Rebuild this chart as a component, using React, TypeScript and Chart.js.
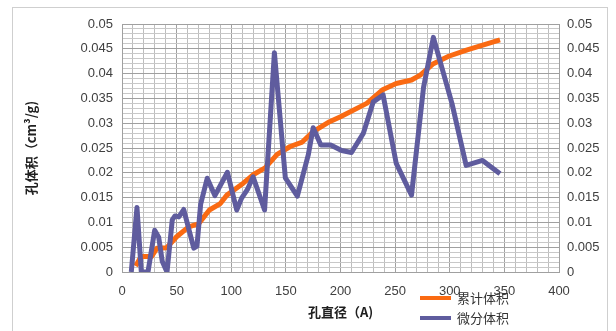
import React, { useEffect, useRef } from "react";
import { Chart, registerables } from "chart.js";

Chart.register(...registerables);

// 微分体积 (differential pore volume)
const diffDiameters = [8.5, 13.7, 17.7, 23.8, 29.9, 33.6, 36.9, 41.2, 46, 48.5, 52, 56.5, 65.7, 68.6, 72, 78, 85, 96.5, 105, 109.5, 114.7, 120, 130.5, 139.5, 149.5, 160.5, 170.5, 175, 182, 191, 201, 210, 221, 230, 239, 251, 265, 276, 285, 302, 315, 330, 346];
const diffVolumes = [0, 0.013, 0, 0, 0.0084, 0.007, 0.0021, 0, 0.0105, 0.0113, 0.0111, 0.0126, 0.0048, 0.0052, 0.0137, 0.0189, 0.0154, 0.0201, 0.0125, 0.0149, 0.0166, 0.0192, 0.0125, 0.0442, 0.019, 0.0153, 0.0236, 0.0291, 0.0256, 0.0256, 0.0245, 0.0241, 0.028, 0.0343, 0.0357, 0.0219, 0.0155, 0.0372, 0.0473, 0.034, 0.0215, 0.0225, 0.0198];

// 累计体积 (cumulative pore volume)
const cumDiameters = [12.5, 17.5, 27, 32, 41, 50, 61, 70, 80, 90, 96, 111, 120, 131, 142, 154, 165, 175, 190, 200, 224, 239, 251, 265, 273, 285, 299, 316, 346];
const cumVolumes = [0.0012, 0.0031, 0.0031, 0.0048, 0.0049, 0.0071, 0.0091, 0.0097, 0.0125, 0.0138, 0.0155, 0.0179, 0.0196, 0.021, 0.0237, 0.0253, 0.0262, 0.0283, 0.0303, 0.0313, 0.034, 0.0368, 0.038, 0.0387, 0.0397, 0.042, 0.0435, 0.0448, 0.0468];

const xTicks = [0, 50, 100, 150, 200, 250, 300, 350, 400];
const seriesNames = ["累计体积", "微分体积"];
const yTitle = "孔体积（cm³/g)";
const xTitle = "孔直径（A)";

const ORANGE = "#FA6A12";
const BLUE = "#5F5C9E";
const TICK_FONT = "'Liberation Sans', 'Noto Sans CJK SC', sans-serif";
const CJK_FONT = "'Noto Sans CJK SC', sans-serif";

const yLabel = (value: number) => {
  const v = Math.round(value * 1000);
  return v % 5 === 0 ? String(v / 1000) : "";
};

export default function App() {
  const ref = useRef<HTMLCanvasElement | null>(null);

  useEffect(() => {
    if (!ref.current) return;
    const yGrid = {
      color: (c: any) => (Math.round(c.tick.value * 1000) % 5 === 0 ? "#a0a0a0" : "#c8c8c8"),
      lineWidth: 1,
      drawTicks: false,
    };
    const chart = new Chart(ref.current, {
      type: "scatter",
      data: {
        datasets: [
          {
            label: seriesNames[1],
            data: diffDiameters.map((x, i) => ({ x, y: diffVolumes[i] })),
            showLine: true,
            borderColor: BLUE,
            backgroundColor: BLUE,
            borderWidth: 5,
            pointRadius: 0,
            order: 0,
            borderJoinStyle: "round",
          },
          {
            label: seriesNames[0],
            data: cumDiameters.map((x, i) => ({ x, y: cumVolumes[i] })),
            showLine: true,
            borderColor: ORANGE,
            backgroundColor: ORANGE,
            borderWidth: 5,
            pointRadius: 0,
            order: 1,
            borderJoinStyle: "round",
          },
        ],
      },
      options: {
        animation: false,
        responsive: false,
        devicePixelRatio: 1,
        layout: { padding: { top: 24, left: 0, right: 0, bottom: 0 } },
        plugins: { legend: { display: false }, tooltip: { enabled: false } },
        scales: {
          x: {
            type: "linear",
            min: xTicks[0],
            max: xTicks[xTicks.length - 1],
            ticks: {
              stepSize: 10,
              autoSkip: false,
              maxRotation: 0,
              padding: 12,
              color: "#404040",
              font: { family: TICK_FONT, size: 13 },
              callback: (v: any) => (xTicks.includes(Number(v)) ? String(v) : ""),
            },
            grid: {
              color: (c: any) => (Math.round(c.tick.value) % 50 === 0 ? "#a0a0a0" : "#bdbdbd"),
              drawTicks: false,
            },
            border: { color: "#a0a0a0" },
            title: {
              display: true,
              text: xTitle,
              color: "#202020",
              font: { family: CJK_FONT, size: 13, weight: "bold" },
              padding: { top: 0, bottom: 11 },
            },
            afterFit: (s: any) => {
              s.height = 59;
            },
          },
          y: {
            type: "linear",
            position: "left",
            min: 0,
            max: 0.05,
            ticks: {
              stepSize: 0.001,
              autoSkip: false,
              padding: 9,
              color: "#404040",
              font: { family: TICK_FONT, size: 13 },
              callback: (v: any) => yLabel(Number(v)),
            },
            grid: yGrid,
            border: { color: "#a0a0a0" },
            title: {
              display: true,
              text: yTitle,
              color: "#202020",
              font: { family: CJK_FONT, size: 13, weight: "bold" },
              padding: { top: 23, bottom: 0 },
            },
            afterFit: (s: any) => {
              s.width = 122;
            },
          },
          y2: {
            type: "linear",
            position: "right",
            min: 0,
            max: 0.05,
            ticks: {
              stepSize: 0.001,
              autoSkip: false,
              padding: 8,
              color: "#404040",
              font: { family: TICK_FONT, size: 13 },
              callback: (v: any) => yLabel(Number(v)),
            },
            grid: { display: false, drawTicks: false },
            border: { color: "#a0a0a0" },
            afterFit: (s: any) => {
              s.width = 57;
            },
          },
        },
      },
    });
    return () => chart.destroy();
  }, []);

  const legendText: React.CSSProperties = {
    position: "absolute",
    left: 457,
    fontFamily: CJK_FONT,
    fontSize: 13,
    lineHeight: "16px",
    color: "#333",
    whiteSpace: "nowrap",
  };
  const legendLine: React.CSSProperties = {
    position: "absolute",
    left: 420,
    width: 31,
    height: 4,
  };

  return (
    <div
      style={{
        position: "fixed",
        left: 0,
        top: 0,
        width: 616,
        height: 331,
        overflow: "hidden",
        background: "#fff",
      }}
    >
      <div
        style={{
          position: "absolute",
          left: 12,
          top: 7,
          width: 594,
          height: 400,
          border: "1px solid #cfcfcf",
        }}
      />
      <canvas ref={ref} width={616} height={331} style={{ position: "absolute", left: 0, top: 0 }} />
      <div style={{ ...legendLine, top: 296, background: ORANGE }} />
      <div style={{ ...legendText, top: 290 }}>{seriesNames[0]}</div>
      <div style={{ ...legendLine, top: 316, background: BLUE }} />
      <div style={{ ...legendText, top: 310 }}>{seriesNames[1]}</div>
    </div>
  );
}
